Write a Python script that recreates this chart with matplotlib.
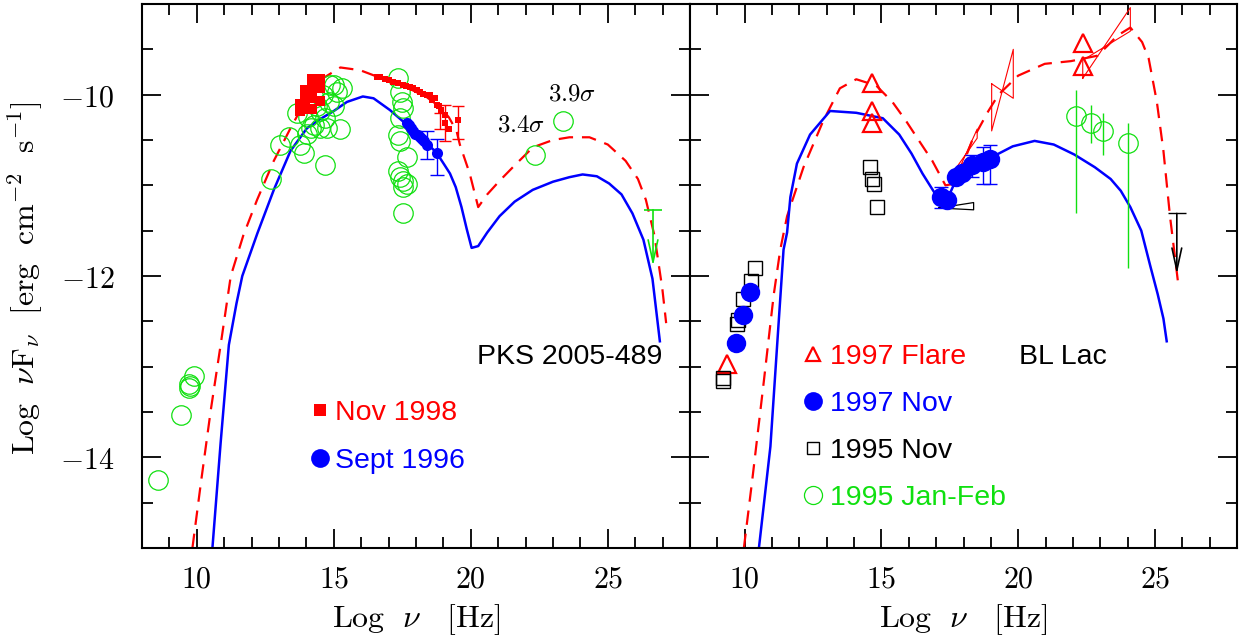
import matplotlib
matplotlib.use("Agg")
import matplotlib.pyplot as plt
from matplotlib.ticker import MultipleLocator, FuncFormatter

plt.rcParams['mathtext.fontset'] = 'cm'
SANS = ['Liberation Sans', 'DejaVu Sans']

RED = '#ff0000'
BLUE = '#0000ff'
GREEN = '#10e010'
BLACK = '#000000'

# ---------------- PKS 2005-489 (left panel) ----------------
pks_m96_x = [10.57, 10.87, 11.17, 11.45, 11.66, 12.21, 12.81, 13.42, 14.02, 14.5, 15.0, 15.48,
             16.06, 16.45, 17.05, 17.66, 18.2, 18.75, 19.05, 19.24, 19.45, 19.66, 19.85, 20.03,
             20.27, 20.6, 21.05, 21.6, 22.26, 23.0, 23.6, 24.08, 24.6, 25.05, 25.5, 25.9, 26.3,
             26.63, 26.9]
pks_m96_y = [-15.0, -13.84, -12.76, -12.3, -12.0, -11.53, -11.05, -10.62, -10.37, -10.27, -10.18,
             -10.08, -10.02, -10.04, -10.17, -10.33, -10.48, -10.64, -10.78, -10.87, -11.02, -11.24,
             -11.48, -11.69, -11.67, -11.52, -11.34, -11.18, -11.05, -10.96, -10.91, -10.88, -10.9,
             -10.98, -11.1, -11.31, -11.6, -12.03, -12.72]

pks_m98_x = [9.84, 10.15, 10.51, 10.87, 11.24, 11.7, 12.2, 12.81, 13.42, 14.0, 14.6, 15.24, 15.96,
             16.57, 17.2, 17.8, 18.4, 18.9, 19.2, 19.48, 19.6, 19.96, 20.27, 20.6, 21.05, 21.6,
             22.27, 23.0, 23.6, 24.33, 25.0, 25.65, 26.1, 26.39, 26.7, 26.99, 27.13]
pks_m98_y = [-15.0, -14.28, -13.48, -12.76, -12.0, -11.55, -11.16, -10.73, -10.37, -10.05, -9.82,
             -9.70, -9.73, -9.80, -9.87, -9.94, -10.03, -10.14, -10.25, -10.40, -10.55, -10.87,
             -11.24, -11.1, -10.95, -10.78, -10.58, -10.5, -10.47, -10.47, -10.55, -10.73, -10.93,
             -11.16, -11.55, -12.14, -12.52]

pks_opt98_x = [13.78, 13.78, 13.96, 13.96, 13.96, 14.22, 14.22, 14.22, 14.22, 14.51, 14.51, 14.51]
pks_opt98_y = [-10.18, -10.10, -10.16, -10.05, -9.95, -10.16, -10.04, -9.93, -9.83, -10.07, -9.93, -9.83]

pks_x98_x = [16.57, 16.7, 16.87, 17.0, 17.17, 17.35, 17.54, 17.65, 17.78, 17.9, 18.02, 18.15,
             18.27, 18.4, 18.51, 18.6, 18.69, 18.75, 18.85, 18.93, 19.05, 19.05, 19.21, 19.54]
pks_x98_y = [-9.80, -9.81, -9.83, -9.84, -9.86, -9.87, -9.89, -9.90, -9.91, -9.93, -9.95, -9.97,
             -9.99, -10.0, -10.0, -10.06, -10.04, -10.11, -10.12, -10.17, -10.22, -10.31, -10.38,
             -10.28]
pks_x98_ex = [18.87, 19.05, 19.54]
pks_x98_elo = [-10.38, -10.51, -10.49]
pks_x98_ehi = [-10.20, -10.11, -10.13]

pks_sax96_x = [17.66, 17.74, 17.82, 17.9, 17.98, 18.06, 18.14, 18.22, 18.3, 18.39, 18.75]
pks_sax96_y = [-10.31, -10.34, -10.37, -10.40, -10.43, -10.45, -10.47, -10.49, -10.51, -10.55, -10.64]
pks_sax96_ex = [18.39, 18.75]
pks_sax96_elo = [-10.71, -10.89]
pks_sax96_ehi = [-10.40, -10.49]

pks_arch_x = [8.59, 9.42, 9.72, 9.72, 9.75, 9.9, 12.69, 13.05, 13.36, 13.66, 13.78, 13.9, 14.02,
              14.05, 14.15, 14.27, 14.27, 14.4, 14.51, 14.51, 14.6, 14.69, 14.69, 14.75, 14.81,
              14.87, 14.99, 15.0, 15.1, 15.24, 15.3, 17.36, 17.42, 17.48, 17.54, 17.42, 17.36,
              17.42, 17.66, 17.36, 17.42, 17.54, 17.66, 17.54, 17.54, 22.36, 23.36]
pks_arch_y = [-14.25, -13.53, -13.19, -13.23, -13.21, -13.10, -10.93, -10.55, -10.47, -10.2, -10.55,
              -10.64, -10.43, -10.25, -10.37, -10.33, -10.04, -10.12, -10.18, -10.37, -10.0, -10.26,
              -10.78, -10.37, -10.08, -9.89, -9.89, -10.12, -9.97, -10.38, -9.93, -9.82, -9.97,
              -10.08, -10.15, -10.26, -10.44, -10.51, -10.69, -10.84, -10.91, -10.95, -10.98,
              -11.02, -11.31, -10.67, -10.29]
pks_ul_x = [26.65]
pks_ul_cap = [-11.27]
pks_ul_tip = [-11.89]

# ---------------- BL Lac (right panel) ----------------
bll_m97_x = [10.52, 10.94, 11.18, 11.42, 11.55, 11.67, 11.91, 12.39, 13.12, 14.08, 15.05, 15.65,
             16.1, 16.5, 17.04, 17.4, 17.71, 18.3, 19.03, 19.8, 20.6, 21.3, 22.05, 22.8, 23.38,
             23.75, 24.1, 24.5, 24.83, 25.1, 25.31, 25.43]
bll_m97_y = [-15.0, -13.88, -12.79, -11.71, -11.52, -11.13, -10.76, -10.44, -10.18, -10.20, -10.26,
             -10.44, -10.65, -10.87, -11.13, -11.16, -10.95, -10.82, -10.69, -10.57, -10.51, -10.55,
             -10.66, -10.8, -10.93, -11.06, -11.24, -11.5, -11.89, -12.2, -12.47, -12.72]

bll_flare_mx = [9.97, 10.28, 10.7, 11.06, 11.3, 11.55, 12.15, 12.87, 13.48, 14.08, 14.81, 15.4,
                15.9, 16.4, 16.86, 17.34, 17.71, 18.31, 18.91, 19.28, 20.0, 20.97, 21.93, 22.9,
                23.3, 23.62, 24.1, 24.53, 24.77, 25.07, 25.31, 25.55, 25.86]
bll_flare_my = [-15.0, -14.24, -13.16, -12.21, -11.71, -11.34, -10.80, -10.29, -9.93, -9.83, -9.9,
                -10.08, -10.29, -10.52, -10.73, -11.0, -10.98, -10.51, -10.18, -10.0, -9.79, -9.66,
                -9.63, -9.57, -9.45, -9.35, -9.26, -9.42, -9.6, -10.08, -10.62, -11.34, -12.11]

bll_flare_x = [9.37, 14.66, 14.66, 14.66, 22.36, 22.36]
bll_flare_y = [-12.97, -9.87, -10.18, -10.31, -9.43, -9.68]

# bow-ties: x_lo, x_hi, line A (y_lo, y_hi), line B (y_lo, y_hi)
bll_bow_xlo = [17.75, 19.03, 22.36]
bll_bow_xhi = [18.5, 19.82, 24.1]
bll_bow_a_lo = [-10.88, -9.88, -9.82]
bll_bow_a_hi = [-10.38, -10.04, -9.04]
bll_bow_b_lo = [-10.80, -10.40, -9.62]
bll_bow_b_hi = [-10.48, -9.50, -9.30]

bll_nov97_x = [9.7, 9.92, 10.19, 17.16, 17.4, 17.71, 17.95, 18.31, 18.73, 18.97]
bll_nov97_y = [-12.74, -12.43, -12.18, -11.13, -11.16, -10.91, -10.86, -10.78, -10.74, -10.71]
bll_nov97_ex = [17.16, 18.31, 18.73, 18.97]
bll_nov97_elo = [-11.25, -10.91, -10.98, -10.98]
bll_nov97_ehi = [-11.02, -10.67, -10.58, -10.55]

bll_nov95_x = [9.19, 9.22, 9.71, 9.74, 9.95, 10.22, 10.37, 14.57, 14.66, 14.72, 14.84]
bll_nov95_y = [-13.12, -13.16, -12.53, -12.49, -12.25, -12.05, -11.91, -10.80, -10.93, -10.98, -11.24]
bll_nov95_bow_x = [17.1, 18.37]
bll_nov95_bow_lo = [-11.25, -11.27]
bll_nov95_bow_hi = [-11.25, -11.19]
bll_ul_x = [25.8]
bll_ul_cap = [-11.31]
bll_ul_tip = [-11.98]

bll_jf95_x = [22.11, 22.66, 23.1, 24.02]
bll_jf95_y = [-10.23, -10.31, -10.4, -10.53]
bll_jf95_elo = [-11.31, -10.53, -10.66, -11.91]
bll_jf95_ehi = [-9.95, -10.11, -10.2, -10.31]

xticks_major = [10, 15, 20, 25]
yticks_major = [-10, -12, -14]


def sym_err(lo, hi):
    mid = [(a + b) / 2 for a, b in zip(lo, hi)]
    half = [(b - a) / 2 for a, b in zip(lo, hi)]
    return mid, [half, half]


# ---------------- figure ----------------
fig = plt.figure(figsize=(12.41, 6.40), dpi=100)
axL = fig.add_axes([142 / 1241, 92 / 640, 548 / 1241, 544 / 640])
axR = fig.add_axes([690 / 1241, 92 / 640, 547 / 1241, 544 / 640])

tickfmt = FuncFormatter(lambda v, p: r'$%d$' % round(v))
for ax in (axL, axR):
    ax.set_xlim(8, 28)
    ax.set_ylim(-15, -9)
    ax.set_xticks(xticks_major)
    ax.xaxis.set_minor_locator(MultipleLocator(1))
    ax.set_yticks(yticks_major)
    ax.yaxis.set_minor_locator(MultipleLocator(0.5))
    ax.xaxis.set_major_formatter(tickfmt)
    ax.yaxis.set_major_formatter(tickfmt)
    ax.tick_params(which='both', direction='in', top=True, right=True, width=1.3,
                   labelsize=21.5)
    ax.tick_params(axis='x', which='both', pad=12)
    ax.tick_params(axis='y', which='both', pad=20)
    ax.tick_params(which='major', length=14)
    ax.tick_params(which='minor', length=8)
    for s in ax.spines.values():
        s.set_linewidth(1.5)
    ax.set_xlabel(r'$\mathrm{Log}\ \ \nu\ \ \ [\mathrm{Hz}]$', fontsize=23, va='center')
    ax.xaxis.set_label_coords(0.5, -72 / 544)
axR.tick_params(labelleft=False)
axL.set_ylabel(r'$\mathrm{Log}\ \ \nu \mathrm{F}_\nu\ \ [\mathrm{erg\ \ cm^{-2}\ \ s^{-1}}]$',
               fontsize=23, ha='center', va='center')
axL.yaxis.set_label_coords((25 - 142) / 548, (548 - 278) / 544)

dash = [6.5, 4.0]

# ----- left panel -----
axL.plot(pks_m98_x, pks_m98_y, color=RED, lw=1.6, dashes=dash, zorder=2)
axL.plot(pks_m96_x, pks_m96_y, color=BLUE, lw=1.8, zorder=2)
axL.plot(pks_arch_x, pks_arch_y, 'o', mfc='none', mec=GREEN, mew=0.9, ms=14, zorder=3)
h98, = axL.plot(pks_opt98_x, pks_opt98_y, 's', color=RED, ms=7.5, mew=0, zorder=4,
                label='Nov 1998')
axL.plot(pks_x98_x, pks_x98_y, 's', color=RED, ms=5, mew=0, zorder=4)
mid, err = sym_err(pks_x98_elo, pks_x98_ehi)
axL.errorbar(pks_x98_ex, mid, yerr=err, fmt='none', ecolor=RED, elinewidth=1.0, capsize=4,
             capthick=1.0, zorder=4)
h96, = axL.plot(pks_sax96_x, pks_sax96_y, 'o', color=BLUE, ms=8, mew=0, zorder=5,
                label='Sept 1996')
mid, err = sym_err(pks_sax96_elo, pks_sax96_ehi)
axL.errorbar(pks_sax96_ex, mid, yerr=err, fmt='none', ecolor=BLUE, elinewidth=1.0, capsize=5,
             capthick=1.0, zorder=5)
for x, c, t in zip(pks_ul_x, pks_ul_cap, pks_ul_tip):
    axL.plot([x], [c], '_', color=GREEN, ms=13, mew=1.2, zorder=5)
    axL.annotate('', xy=(x, t), xytext=(x, c),
                 arrowprops=dict(arrowstyle='->,head_length=1.6,head_width=0.35',
                                 color=GREEN, lw=1.2, shrinkA=0, shrinkB=0))

axL.text(23.71, -9.99, r'$3.9\sigma$', fontsize=18, ha='center', va='center')
axL.text(21.85, -10.33, r'$3.4\sigma$', fontsize=18, ha='center', va='center')
axL.text(26.98, -12.89, 'PKS 2005-489', fontsize=20.5, family=SANS, ha='right', va='center')

legL = axL.legend(handles=[h98, h96], loc='upper left',
                  bbox_to_anchor=((313 - 142) / 548, (548 - 400) / 544),
                  frameon=False, borderpad=0, borderaxespad=0, handlelength=0.5,
                  handletextpad=0.27, labelspacing=0.78, prop={'family': SANS, 'size': 20.5})
for h, ms in zip(legL.legend_handles, [8.5, 13.5]):
    h.set_markersize(ms)
for t, c in zip(legL.get_texts(), [RED, BLUE]):
    t.set_color(c)

# ----- right panel -----
axR.plot(bll_flare_mx, bll_flare_my, color=RED, lw=1.6, dashes=dash, zorder=2)
axR.plot(bll_m97_x, bll_m97_y, color=BLUE, lw=1.8, zorder=2)
for xl, xh, al, ah, bl, bh in zip(bll_bow_xlo, bll_bow_xhi, bll_bow_a_lo, bll_bow_a_hi,
                                  bll_bow_b_lo, bll_bow_b_hi):
    axR.plot([xl, xh, xh, xl, xl], [al, ah, bh, bl, al], color=RED, lw=0.8, zorder=3)
axR.plot([bll_nov95_bow_x[0], bll_nov95_bow_x[1], bll_nov95_bow_x[1], bll_nov95_bow_x[0]],
         [bll_nov95_bow_lo[0], bll_nov95_bow_lo[1], bll_nov95_bow_hi[1], bll_nov95_bow_hi[0]],
         color=BLACK, lw=0.9, zorder=3)
hfl, = axR.plot(bll_flare_x, bll_flare_y, '^', mfc='none', mec=RED, mew=1.6, ms=13, zorder=4,
                label='1997 Flare')
hn95, = axR.plot(bll_nov95_x, bll_nov95_y, 's', mfc='none', mec=BLACK, mew=1.0, ms=10.5,
                 zorder=4, label='1995 Nov')
hn97, = axR.plot(bll_nov97_x, bll_nov97_y, 'o', color=BLUE, ms=14, mew=0, zorder=5,
                 label='1997 Nov')
mid, err = sym_err(bll_nov97_elo, bll_nov97_ehi)
axR.errorbar(bll_nov97_ex, mid, yerr=err, fmt='none', ecolor=BLUE, elinewidth=1.0, capsize=5,
             capthick=1.0, zorder=5)
hjf, = axR.plot(bll_jf95_x, bll_jf95_y, 'o', mfc='none', mec=GREEN, mew=0.9, ms=14, zorder=4,
                label='1995 Jan-Feb')
axR.vlines(bll_jf95_x, bll_jf95_elo, bll_jf95_ehi, color=GREEN, lw=1.0, zorder=4)
for x, c, t in zip(bll_ul_x, bll_ul_cap, bll_ul_tip):
    axR.plot([x], [c], '_', color=BLACK, ms=13, mew=1.0, zorder=5)
    axR.annotate('', xy=(x, t), xytext=(x, c),
                 arrowprops=dict(arrowstyle='->,head_length=1.6,head_width=0.35',
                                 color=BLACK, lw=1.2, shrinkA=0, shrinkB=0))

axR.text(21.63, -12.89, 'BL Lac', fontsize=20.5, family=SANS, ha='center', va='center')

legR = axR.legend(handles=[hfl, hn97, hn95, hjf], loc='upper left',
                  bbox_to_anchor=((806 - 690) / 547, (548 - 344) / 544),
                  frameon=False, borderpad=0, borderaxespad=0, handlelength=0.5,
                  handletextpad=0.35, labelspacing=0.74, prop={'family': SANS, 'size': 20.5})
for h, ms in zip(legR.legend_handles, [10.5, 13.5, 9, 13]):
    h.set_markersize(ms)
for t, c in zip(legR.get_texts(), [RED, BLUE, BLACK, GREEN]):
    t.set_color(c)

fig.savefig('out.png', dpi=100)
